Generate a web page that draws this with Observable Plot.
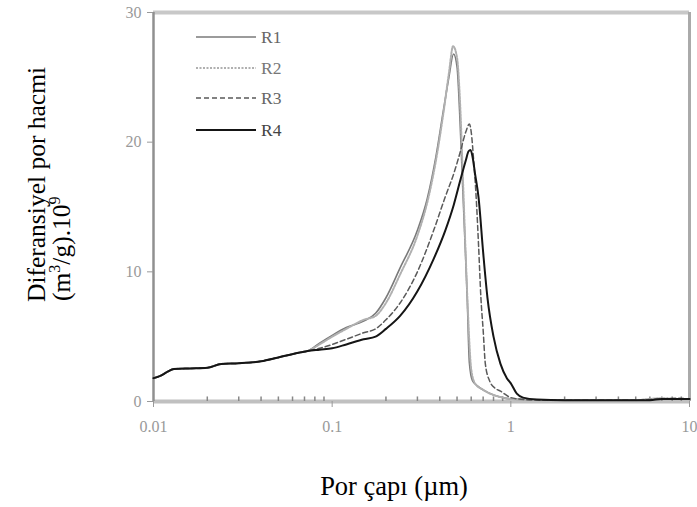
<!DOCTYPE html>
<html><head><meta charset="utf-8">
<script src="https://cdn.jsdelivr.net/npm/d3@7"></script>
<script src="https://cdn.jsdelivr.net/npm/@observablehq/plot@0.6"></script>
<style>
body{margin:0;background:#fff}
#c{position:relative;width:697px;height:507px}
#legend{position:absolute;left:0;top:0;pointer-events:none}
</style>
</head><body><div id="c"></div>
<script>
const seriesNames = ["R1","R2","R3","R4"];

const xR1 = [0.01,0.011,0.012,0.013,0.016,0.02,0.024,0.03,0.04,0.05,0.067,0.073,0.085,0.1,0.12,0.15,0.175,0.2,0.24,0.3,0.34,0.38,0.42,0.45,0.478,0.5,0.52,0.536,0.557,0.57,0.586,0.61,0.65,0.7,0.8,0.9,1.0,1.2,1.5,2,3,5,6,7,8.5,10];
const yR1 = [1.8,2.0,2.3,2.5,2.55,2.6,2.9,2.95,3.1,3.4,3.8,3.9,4.5,5.1,5.7,6.2,6.8,8.0,10.3,13.2,15.6,18.8,22.5,25.0,26.8,25.8,21.5,17.0,11.5,8.0,3.0,1.6,1.2,0.9,0.5,0.3,0.2,0.15,0.1,0.1,0.1,0.1,0.15,0.2,0.2,0.2];

const xR2 = [0.01,0.011,0.012,0.013,0.016,0.02,0.024,0.03,0.04,0.05,0.067,0.073,0.085,0.1,0.12,0.15,0.175,0.2,0.24,0.3,0.34,0.38,0.42,0.45,0.475,0.5,0.52,0.54,0.56,0.575,0.6,0.63,0.7,0.8,0.9,1.0,1.2,1.5,2,3,5,6,7,8.5,10];
const yR2 = [1.8,2.0,2.3,2.5,2.55,2.6,2.9,2.95,3.1,3.4,3.8,3.9,4.4,5.0,5.6,6.3,6.6,7.6,9.8,12.8,15.3,18.5,22.3,25.3,27.4,26.5,23.0,17.0,11.0,7.0,2.5,1.4,0.9,0.5,0.3,0.2,0.15,0.1,0.1,0.1,0.1,0.2,0.25,0.2,0.2];

const xR3 = [0.01,0.011,0.012,0.013,0.016,0.02,0.024,0.03,0.04,0.05,0.067,0.073,0.085,0.1,0.12,0.15,0.175,0.2,0.24,0.3,0.37,0.43,0.48,0.52,0.56,0.586,0.6,0.62,0.64,0.66,0.68,0.7,0.72,0.76,0.82,0.875,1.0,1.2,1.5,2,3,5,6,7,8.5,10];
const yR3 = [1.8,2.0,2.3,2.5,2.55,2.6,2.9,2.95,3.1,3.4,3.8,3.9,4.1,4.4,4.8,5.3,5.6,6.3,7.6,10.0,13.2,15.8,17.6,19.2,20.8,21.4,20.8,18.5,15.7,12.0,8.0,5.5,2.9,1.6,1.0,0.8,0.3,0.15,0.1,0.1,0.1,0.1,0.15,0.2,0.25,0.2];

const xR4 = [0.01,0.011,0.012,0.013,0.016,0.02,0.024,0.03,0.04,0.05,0.067,0.073,0.085,0.1,0.12,0.15,0.175,0.2,0.24,0.3,0.37,0.43,0.48,0.52,0.56,0.58,0.595,0.61,0.63,0.66,0.7,0.74,0.8,0.875,0.95,1.0,1.08,1.17,1.4,2,3,5,6,7,8.5,10];
const yR4 = [1.8,2.0,2.3,2.5,2.55,2.6,2.9,2.95,3.1,3.4,3.8,3.9,4.0,4.1,4.4,4.8,5.0,5.6,6.6,8.5,11.0,13.2,15.2,17.0,18.6,19.3,19.4,18.9,17.6,15.7,11.5,8.0,5.0,2.9,1.8,1.4,0.6,0.3,0.15,0.1,0.1,0.1,0.1,0.2,0.2,0.2];

const xTicks = [0.01,0.1,1,10];
const xTickLabels = ["0.01","0.1","1","10"];
const minorTicks = [0.02,0.03,0.04,0.05,0.06,0.07,0.08,0.09,0.2,0.3,0.4,0.5,0.6,0.7,0.8,0.9,2,3,4,5,6,7,8,9];
const yTicks = [0,10,20,30];
const yTickLabels = ["0","10","20","30"];

const xTitle = "Por çapı (µm)";
const yTitle1 = "Diferansiyel por hacmi";

const xs = [xR1,xR2,xR3,xR4];
const ys = [yR1,yR2,yR3,yR4];
const styles = {
  R1:{stroke:"#7a7a7a", width:1.6, dash:null, label:"#666"},
  R2:{stroke:"#b0b0b0", width:2.0, dash:"2,1.5", label:"#777"},
  R3:{stroke:"#5a5a5a", width:1.5, dash:"5,3", label:"#666"},
  R4:{stroke:"#151515", width:2.0, dash:null, label:"#444"}
};

const data = [];
seriesNames.forEach((s,i)=>xs[i].forEach((x,j)=>data.push({series:s, x, y:ys[i][j]})));

const lineMarks = seriesNames.map(s=>Plot.line(data.filter(d=>d.series===s),{
  x:"x", y:"y", curve:"monotone-x", stroke:styles[s].stroke, strokeWidth:styles[s].width,
  strokeDasharray:styles[s].dash
}));

const chart = Plot.plot({
  width:697, height:507,
  marginLeft:153, marginRight:8, marginTop:12, marginBottom:106,
  x:{type:"log", domain:[0.01,10]},
  y:{domain:[0,30]},
  style:{background:"white", fontFamily:"'Liberation Serif', serif"},
  marks:[
    Plot.ruleY([30],{stroke:"#c8c8c8", strokeWidth:4}),
    Plot.ruleX([10],{stroke:"#aaaaaa", strokeWidth:3}),
    Plot.ruleY([0],{stroke:"#c0c0c0", strokeWidth:4}),
    Plot.ruleX([0.01],{stroke:"#909090", strokeWidth:2.5}),
    Plot.ruleX(minorTicks,{y1:0, y2:0.35, stroke:"#888", strokeWidth:1.5}),
    Plot.axisX({ticks:xTicks, tickFormat:(d)=>xTickLabels[xTicks.indexOf(d)], tickSize:6, tickPadding:13,
      stroke:"#999", fill:"#999", fontSize:16, label:null}),
    Plot.axisY({ticks:yTicks, tickFormat:(d)=>yTickLabels[yTicks.indexOf(d)], tickSize:6, tickPadding:6,
      stroke:"#999", fill:"#999", fontSize:16, label:null}),
    ...lineMarks
  ]
});
document.getElementById("c").appendChild(chart);

const svg = d3.select(chart);
// x title
svg.append("text").attr("x",394).attr("y",495).attr("text-anchor","middle")
  .attr("font-family","'Liberation Serif', serif").attr("font-size",26.5).attr("fill","#000")
  .text(xTitle);
// y title
const g = svg.append("g").attr("font-family","'Liberation Serif', serif").attr("font-size",25.5).attr("fill","#000");
g.append("text").attr("transform","translate(45,302) rotate(-90)").attr("text-anchor","start").text(yTitle1);
const t2 = g.append("text").attr("transform","translate(70,301) rotate(-90)").attr("text-anchor","start");
t2.append("tspan").text("(m");
t2.append("tspan").attr("font-size",16).attr("dy",-10).text("3");
t2.append("tspan").attr("dy",10).text("/g).10");
t2.append("tspan").attr("font-size",16).attr("dy",-10).text("9");

// legend
const leg = d3.select("#c").append("svg").attr("id","legend").attr("width",697).attr("height",507);
const legY = [37,68,98,130];
seriesNames.forEach((s,i)=>{
  leg.append("line").attr("x1",196).attr("x2",256).attr("y1",legY[i]).attr("y2",legY[i])
    .attr("stroke",styles[s].stroke).attr("stroke-width",styles[s].width)
    .attr("stroke-dasharray",styles[s].dash);
  leg.append("text").attr("x",261).attr("y",legY[i]).attr("dy","0.35em")
    .attr("font-family","'Liberation Serif', serif").attr("font-size",17.5).attr("fill",styles[s].label).text(s);
});
</script>
</body></html>
